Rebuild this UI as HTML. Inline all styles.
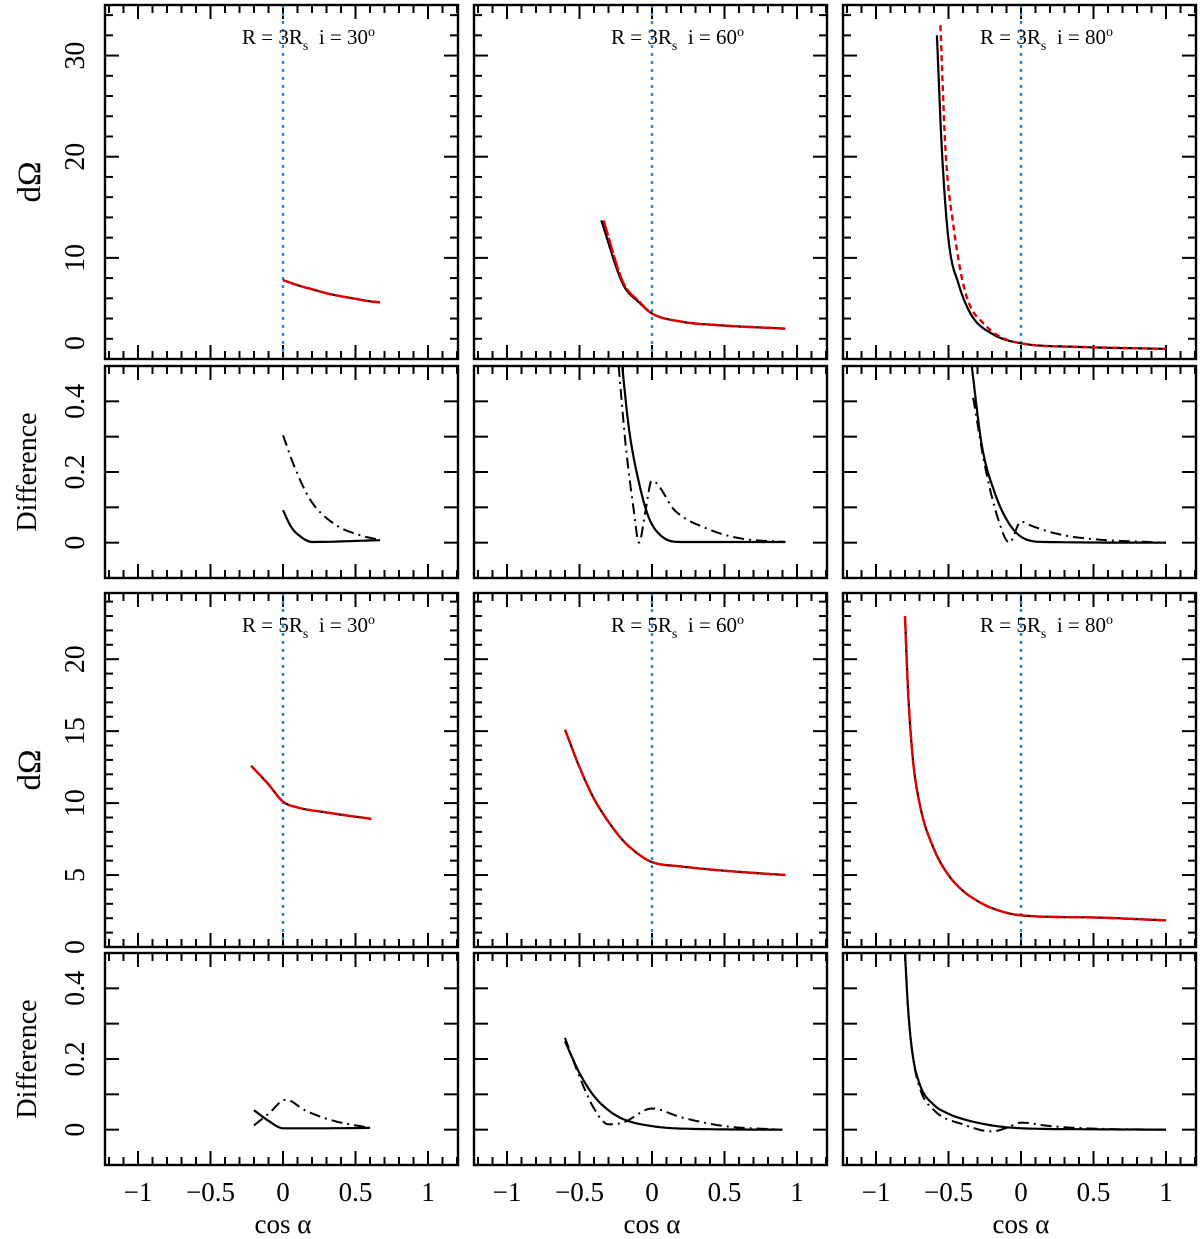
<!DOCTYPE html>
<html><head><meta charset="utf-8"><style>
html,body{margin:0;padding:0;background:#fff;}
svg{display:block;font-family:"Liberation Serif",serif;}
</style></head><body>
<svg id="chart" width="1200" height="1239" viewBox="0 0 1200 1239" xmlns="http://www.w3.org/2000/svg"></svg>
<script>
// ---- data: top row (R = 3Rs) dOmega ----
const a30x=[0,0.1,0.2,0.3,0.4,0.5,0.6,0.67];
const a30black=[7.8,7.3,6.9,6.5,6.2,5.95,5.7,5.6];
const a30red=[7.8,7.3,6.9,6.5,6.2,5.95,5.7,5.6];
const a60x=[-0.35,-0.2,-0.09,0,0.2,0.45,0.92];
const a60black=[13.7,7.4,5.6,4.5,3.7,3.35,3.0];
const a60rx=[-0.334,-0.2,-0.09,0,0.2,0.45,0.92];
const a60red=[13.7,7.6,5.7,4.5,3.7,3.35,3.0];
const a80x=[-0.58,-0.545,-0.5,-0.43,-0.34,-0.2,0,0.39,1];
const a80black=[32,20.5,11.8,7.4,4.3,2.5,1.55,1.2,1.0];
const a80rx=[-0.556,-0.52,-0.466,-0.386,-0.25,0,0.39,1];
const a80red=[33,20.5,13.2,6.7,3.4,1.55,1.2,1.0];
// ---- differences R = 3Rs ----
const b30sx=[0,0.057,0.125,0.2,0.67];
const b30s=[0.092,0.044,0.016,0.002,0.007];
const b30dx=[0,0.08,0.19,0.35,0.53,0.67];
const b30d=[0.304,0.214,0.12,0.054,0.021,0.008];
const b60sx=[-0.205,-0.16,-0.09,-0.02,0.07,0.2,0.92];
const b60s=[0.497,0.326,0.17,0.069,0.017,0.002,0.002];
const b60dx=[-0.23,-0.18,-0.125,-0.09,-0.045,-0.01,0,0.16,0.39,0.61,0.92];
const b60d=[0.5,0.27,0.09,0,0.09,0.17,0.175,0.09,0.038,0.012,0.002];
const b80sx=[-0.34,-0.27,-0.18,-0.09,0,0.16,1];
const b80s=[0.5,0.275,0.14,0.059,0.017,0.002,0];
const b80dx=[-0.33,-0.25,-0.16,-0.08,0,0.07,0.27,0.5,1];
const b80d=[0.41,0.22,0.07,0,0.06,0.048,0.023,0.01,0];
// ---- R = 5Rs dOmega ----
const c30x=[-0.22,-0.1,0,0.1,0.3,0.61];
const c30=[12.6,11.3,10.1,9.7,9.35,8.9];
const c60x=[-0.6,-0.5,-0.4,-0.3,-0.2,-0.1,0,0.2,0.5,0.92];
const c60=[15.1,12.5,10.3,8.7,7.4,6.5,5.9,5.6,5.3,5.0];
const c80x=[-0.8,-0.78,-0.75,-0.7,-0.6,-0.5,-0.4,-0.3,-0.2,0,0.5,1];
const c80=[23,18,13.5,10,6.8,5,3.9,3.2,2.7,2.2,2.05,1.85];
// ---- differences R = 5Rs ----
const d30sx=[-0.2,-0.1,0,0.3,0.6];
const d30s=[0.055,0.025,0.004,0.004,0.005];
const d30dx=[-0.2,-0.1,0.02,0.15,0.35,0.6];
const d30d=[0.012,0.045,0.085,0.055,0.025,0.005];
const d60sx=[-0.6,-0.5,-0.4,-0.3,-0.2,0,0.3,0.9];
const d60s=[0.25,0.16,0.095,0.055,0.03,0.01,0.002,0];
const d60dx=[-0.6,-0.5,-0.4,-0.3,-0.2,0,0.2,0.5,0.9];
const d60d=[0.26,0.15,0.06,0.015,0.02,0.06,0.035,0.01,0];
const d80sx=[-0.8,-0.78,-0.75,-0.7,-0.6,-0.5,-0.4,-0.2,0,0.5,1];
const d80s=[0.5,0.35,0.22,0.13,0.07,0.045,0.03,0.012,0.004,0.001,0];
const d80dx=[-0.8,-0.78,-0.75,-0.7,-0.6,-0.4,-0.2,-0.1,0,0.2,0.5,1];
const d80d=[0.5,0.35,0.22,0.12,0.055,0.015,-0.005,0.005,0.02,0.01,0.003,0];
// ---- axis ticks ----
const xTickLabels=["\u22121","\u22120.5","0","0.5","1"];
const xTickValues=[-1,-0.5,0,0.5,1];
const row1Labels=[0,10,20,30];
const row3Labels=[0,5,10,15,20];
const diffLabels=[0,0.2,0.4];
const titles=[["3","30"],["3","60"],["3","80"],["5","30"],["5","60"],["5","80"]];

const NS="http://www.w3.org/2000/svg";
const svg=document.getElementById('chart');
function mk(tag,attrs,parent){const e=document.createElementNS(NS,tag);for(const k in attrs)e.setAttribute(k,attrs[k]);(parent||svg).appendChild(e);return e;}
const colLeft=[105,474,843];
const W=353;
const rows=[
 {top:5,bot:359,y0:0,y1:35,minor:2,major:10,labels:row1Labels,name:'domega-3rs'},
 {top:366,bot:578,y0:-0.1,y1:0.5,minor:0.1,major:0.1,labels:diffLabels,name:'difference-3rs'},
 {top:593,bot:947,y0:0,y1:24.6,minor:1,major:5,labels:row3Labels,name:'domega-5rs'},
 {top:953,bot:1165,y0:-0.1,y1:0.5,minor:0.1,major:0.1,labels:diffLabels,name:'difference-5rs'}
];
function xs(c,v){return colLeft[c]+178+145*v;}
function ys(r,v){const R=rows[r];return R.bot-(v-R.y0)/(R.y1-R.y0)*(R.bot-R.top);}
// monotone cubic (Fritsch-Carlson) interpolation in pixel space
function smooth(px,py){
  const n=px.length;if(n<3)return px.map((x,i)=>[x,py[i]]);
  const d=[],m=new Array(n);
  for(let i=0;i<n-1;i++)d.push((py[i+1]-py[i])/(px[i+1]-px[i]));
  m[0]=d[0];m[n-1]=d[n-2];
  for(let i=1;i<n-1;i++){m[i]=(d[i-1]*d[i]<=0)?0:(d[i-1]+d[i])/2;}
  for(let i=0;i<n-1;i++){
    if(d[i]===0){m[i]=0;m[i+1]=0;continue;}
    const a=m[i]/d[i],b=m[i+1]/d[i],s=a*a+b*b;
    if(s>9){const t=3/Math.sqrt(s);m[i]=t*a*d[i];m[i+1]=t*b*d[i];}
  }
  const out=[];
  for(let i=0;i<n-1;i++){
    const h=px[i+1]-px[i];const steps=Math.max(4,Math.ceil(Math.hypot(h,py[i+1]-py[i])/3));
    for(let k=0;k<steps;k++){
      const t=k/steps,t2=t*t,t3=t2*t;
      const y=(2*t3-3*t2+1)*py[i]+(t3-2*t2+t)*h*m[i]+(-2*t3+3*t2)*py[i+1]+(t3-t2)*h*m[i+1];
      out.push([px[i]+t*h,y]);
    }
  }
  out.push([px[n-1],py[n-1]]);
  return out;
}
function line(r,c,xa,ya,style,name){
  const px=xa.map(x=>xs(c,x)),py=ya.map(y=>ys(r,y));
  const pts=smooth(px,py).map(p=>p[0].toFixed(1)+','+p[1].toFixed(1)).join(' ');
  const p=mk('polyline',Object.assign({points:pts,fill:'none','stroke-linejoin':'round','stroke-linecap':'butt'},style));
  
  
}
const solidK={stroke:'#000','stroke-width':2.2};
const redS={stroke:'#e00000','stroke-width':2.4,'stroke-dasharray':'16 2'};
const redD={stroke:'#e00000','stroke-width':2.4,'stroke-dasharray':'6 4'};
const dashdot={stroke:'#000','stroke-width':2,'stroke-dasharray':'11 5 2 5'};

for(let r=0;r<4;r++){
  const R=rows[r];
  for(let c=0;c<3;c++){
    const g=mk('g',{});
    
    
    const L=colLeft[c],Rt=L+W;
    for(let k=-12;k<=12;k++){
      const v=k/10,x=xs(c,v);if(x<L+1||x>Rt-1)continue;
      const len=(k%5===0)?14:8;
      mk('line',{x1:x,x2:x,y1:R.bot,y2:R.bot-len,stroke:'#000','stroke-width':2},g);
      mk('line',{x1:x,x2:x,y1:R.top,y2:R.top+len,stroke:'#000','stroke-width':2},g);
    }
    const n=Math.round((R.y1-R.y0)/R.minor);
    for(let k=0;k<=n+1;k++){
      const v=Math.round((Math.ceil(R.y0/R.minor)+k)*R.minor*1000)/1000;const y=ys(r,v);
      if(y<R.top+1||y>R.bot-1)continue;
      const isMaj=Math.abs(v/R.major-Math.round(v/R.major))<1e-6;
      const len=isMaj?14:8;
      mk('line',{x1:L,x2:L+len,y1:y,y2:y,stroke:'#000','stroke-width':2},g);
      mk('line',{x1:Rt,x2:Rt-len,y1:y,y2:y,stroke:'#000','stroke-width':2},g);
    }
    if(r===0||r===2){
      const z=mk('line',{x1:xs(c,0),x2:xs(c,0),y1:R.top,y2:R.bot,stroke:'#1e88e5','stroke-width':2.4,'stroke-dasharray':'3 5'},g);
      
      
      const t=titles[(r===0?0:3)+c];
      const tx=mk('text',{x:L+137,y:R.top+39,'font-size':21},g);
      
      
      tx.innerHTML='R = '+t[0]+'R<tspan font-size="14" dy="6">s</tspan><tspan dy="-6">\u00a0\u00a0i = '+t[1]+'</tspan><tspan font-size="14" dy="-8">o</tspan>';
    }
    const b=mk('rect',{x:L,y:R.top,width:W,height:R.bot-R.top,fill:'none',stroke:'#000','stroke-width':2.4},g);
    
    
    if(r===3){
      xTickValues.forEach((v,i)=>{
        const t=mk('text',{x:xs(c,v),y:1201,'font-size':27,'text-anchor':'middle'});
        
        
        t.textContent=xTickLabels[i];
      });
      const xt=mk('text',{x:L+178,y:1233,'font-size':27,'text-anchor':'middle'});
      
      
      xt.textContent='cos \u03b1';
    }
    if(c===0){
      R.labels.forEach(v=>{
        let y=ys(r,v); if(r===0&&v===0)y=343;
        const t=mk('text',{x:0,y:0,'font-size':28,'text-anchor':'middle',transform:'translate(84,'+y+') rotate(-90)'});
        
        
        t.textContent=String(v);
      });
      const isDiff=(r%2===1);
      const yt=mk('text',{x:0,y:0,'font-size':isDiff?28:33,'text-anchor':'middle',transform:'translate('+(isDiff?36:40)+','+((R.top+R.bot)/2)+') rotate(-90)'});
      
      
      yt.textContent=isDiff?'Difference':'d\u03a9';
    }
  }
}
line(0,0,a30x,a30black,solidK,'domega-3rs-i30-exact');
line(0,0,a30x,a30red,redS,'domega-3rs-i30-approx');
line(0,1,a60x,a60black,solidK,'domega-3rs-i60-exact');
line(0,1,a60rx,a60red,redS,'domega-3rs-i60-approx');
line(0,2,a80x,a80black,solidK,'domega-3rs-i80-exact');
line(0,2,a80rx,a80red,redD,'domega-3rs-i80-approx');
line(1,0,b30sx,b30s,solidK,'diff-3rs-i30-solid');
line(1,0,b30dx,b30d,dashdot,'diff-3rs-i30-dashdot');
line(1,1,b60sx,b60s,solidK,'diff-3rs-i60-solid');
line(1,1,b60dx,b60d,dashdot,'diff-3rs-i60-dashdot');
line(1,2,b80sx,b80s,solidK,'diff-3rs-i80-solid');
line(1,2,b80dx,b80d,dashdot,'diff-3rs-i80-dashdot');
line(2,0,c30x,c30,solidK,'domega-5rs-i30-exact');
line(2,0,c30x,c30,redS,'domega-5rs-i30-approx');
line(2,1,c60x,c60,solidK,'domega-5rs-i60-exact');
line(2,1,c60x,c60,redS,'domega-5rs-i60-approx');
line(2,2,c80x,c80,solidK,'domega-5rs-i80-exact');
line(2,2,c80x,c80,redS,'domega-5rs-i80-approx');
line(3,0,d30sx,d30s,solidK,'diff-5rs-i30-solid');
line(3,0,d30dx,d30d,dashdot,'diff-5rs-i30-dashdot');
line(3,1,d60sx,d60s,solidK,'diff-5rs-i60-solid');
line(3,1,d60dx,d60d,dashdot,'diff-5rs-i60-dashdot');
line(3,2,d80sx,d80s,solidK,'diff-5rs-i80-solid');
line(3,2,d80dx,d80d,dashdot,'diff-5rs-i80-dashdot');
</script>
</body></html>
